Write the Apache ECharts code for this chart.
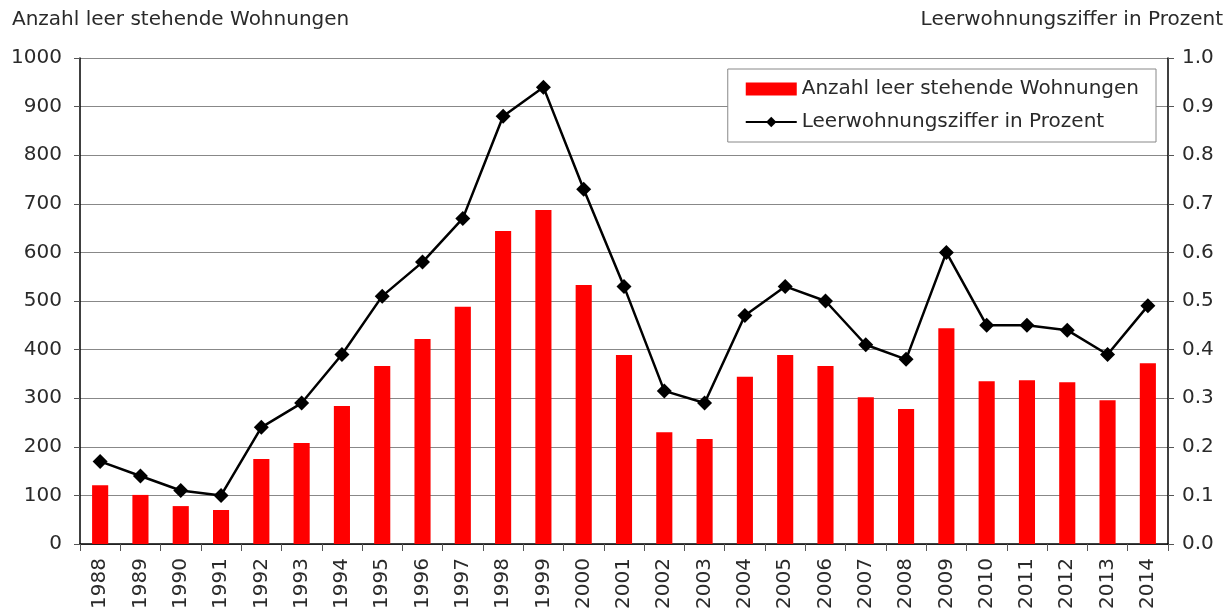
<!DOCTYPE html>
<html><head><meta charset="utf-8">
<script src="https://cdn.jsdelivr.net/npm/echarts@6/dist/echarts.min.js"></script>
<style>html,body{margin:0;padding:0;background:#fff}#c{width:1231px;height:608px}</style>
</head><body><div id="c"></div>
<script>
const years = ['1988','1989','1990','1991','1992','1993','1994','1995','1996','1997','1998','1999','2000','2001','2002','2003','2004','2005','2006','2007','2008','2009','2010','2011','2012','2013','2014'];
const leerstehend = [121,101,78,70,175,208,284,366,422,488,644,687,533,389,230,216,344,389,366,302,278,444,335,337,333,296,372];
const ziffer = [0.17,0.14,0.11,0.10,0.24,0.29,0.39,0.51,0.58,0.67,0.88,0.94,0.73,0.53,0.315,0.29,0.47,0.53,0.50,0.41,0.38,0.60,0.45,0.45,0.44,0.39,0.49];
const leftTitle = 'Anzahl leer stehende Wohnungen';
const rightTitle = 'Leerwohnungsziffer in Prozent';

const font = 'DejaVu Sans';
const fs = 20;
const txt = '#2a2a2a';
const chart = echarts.init(document.getElementById('c'), null, {renderer:'canvas'});
chart.setOption({
  animation:false,
  textStyle:{fontFamily:font},
  grid:{left:80,right:63,top:58,bottom:64,containLabel:false,outerBoundsMode:'none'},
  graphic:[
    {type:'text',left:12,top:10,style:{text:leftTitle,fontSize:fs,fontFamily:font,fill:txt}},
    {type:'text',right:8,top:10,style:{text:rightTitle,fontSize:fs,fontFamily:font,fill:txt}}
  ],
  legend:{
    orient:'vertical',right:75,top:69,
    padding:[10,17,10,17],itemGap:13,
    borderColor:'#888',borderWidth:1,backgroundColor:'#fff',
    itemWidth:51,itemHeight:13,
    textStyle:{fontSize:fs,color:txt,fontFamily:font,padding:[0,0,0,0]},
    data:[{name:leftTitle,icon:'rect'},{name:rightTitle}]
  },
  xAxis:{
    type:'category',data:years,boundaryGap:true,
    axisLine:{lineStyle:{color:'#000',width:1.5}},
    axisTick:{show:true,alignWithLabel:false,length:7,inside:false,lineStyle:{color:'#555'}},
    axisLabel:{rotate:90,fontSize:fs,color:txt,margin:14,interval:0,fontFamily:font}
  },
  yAxis:[
    {type:'value',min:0,max:1000,interval:100,
     axisLine:{show:true,lineStyle:{color:'#000',width:1.5}},
     axisTick:{show:true,length:6,lineStyle:{color:'#555'}},
     splitLine:{lineStyle:{color:'#888',width:1}},
     axisLabel:{fontSize:fs,color:txt,margin:18,fontFamily:font,formatter:v=>String(v)}},
    {type:'value',min:0,max:1,interval:0.1,position:'right',
     axisLine:{show:true,lineStyle:{color:'#000',width:1.5}},
     axisTick:{show:true,length:6,lineStyle:{color:'#555'}},
     splitLine:{show:false},
     axisLabel:{fontSize:fs,color:txt,margin:14,fontFamily:font,formatter:v=>v.toFixed(1)}}
  ],
  series:[
    {name:leftTitle,type:'bar',data:leerstehend,barWidth:'40%',itemStyle:{color:'#ff0000'},yAxisIndex:0,z:2},
    {name:rightTitle,type:'line',data:ziffer,yAxisIndex:1,symbol:'diamond',symbolSize:15,
     lineStyle:{color:'#000',width:2.5},itemStyle:{color:'#000'},z:3}
  ]
});
</script></body></html>
